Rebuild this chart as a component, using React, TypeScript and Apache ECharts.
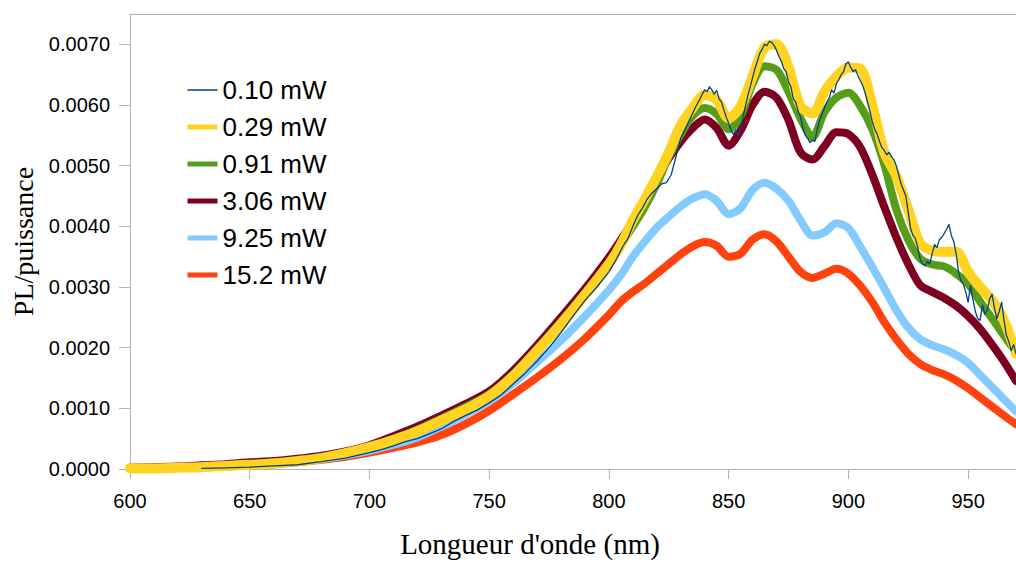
import React, { useEffect, useRef } from "react";
import * as echarts from "echarts";

// Wavelength grid (nm) shared by the smooth series
const wavelengths = [
  600, 610, 620, 630, 640, 650, 660, 670, 680, 690, 700, 710, 720, 730, 740, 750, 760, 770, 780, 790, 800,
  805, 810, 815, 820, 825, 830, 835, 840, 845, 850, 855, 860, 865, 870, 875, 880, 885, 890, 895, 900,
  905, 910, 915, 920, 925, 930, 935, 940, 945, 950, 955, 960, 965, 970,
];

// Values in units of 1e-3 (PL / power)
const UNIT = 0.001;

const p029 = [
  0.01, 0.01, 0.02, 0.03, 0.05, 0.07, 0.09, 0.13, 0.18, 0.26, 0.36, 0.48, 0.62, 0.80, 0.98, 1.20, 1.53, 1.95, 2.39, 2.87, 3.38,
  3.70, 4.10, 4.45, 4.82, 5.22, 5.67, 5.95, 6.17, 6.08, 5.78, 5.98, 6.47, 6.95, 7.00, 6.62, 5.98, 5.86, 6.22, 6.47, 6.62,
  6.60, 6.00, 5.22, 4.83, 4.28, 3.72, 3.60, 3.58, 3.58, 3.25, 3.00, 2.78, 2.45, 1.90,
];

const p091 = [
  0.02, 0.02, 0.03, 0.04, 0.06, 0.08, 0.11, 0.15, 0.20, 0.27, 0.37, 0.50, 0.65, 0.83, 1.02, 1.23, 1.56, 1.98, 2.43, 2.90, 3.40,
  3.70, 4.00, 4.32, 4.70, 5.15, 5.52, 5.82, 5.95, 5.85, 5.60, 5.82, 6.35, 6.64, 6.58, 6.22, 5.78, 5.47, 5.88, 6.12, 6.20,
  5.98, 5.60, 5.02, 4.28, 3.78, 3.47, 3.37, 3.34, 3.22, 3.05, 2.76, 2.48, 2.20, 1.92,
];

const p306 = [
  0.02, 0.03, 0.04, 0.06, 0.08, 0.11, 0.13, 0.17, 0.22, 0.29, 0.39, 0.54, 0.70, 0.88, 1.07, 1.28, 1.62, 2.04, 2.50, 2.97, 3.49,
  3.78, 4.08, 4.45, 4.80, 5.12, 5.40, 5.62, 5.76, 5.62, 5.33, 5.58, 6.00, 6.22, 6.12, 5.75, 5.22, 5.10, 5.32, 5.55, 5.52,
  5.30, 4.85, 4.32, 3.82, 3.38, 3.03, 2.92, 2.82, 2.69, 2.52, 2.31, 2.05, 1.77, 1.45,
];

const p925 = [
  0.01, 0.02, 0.03, 0.04, 0.05, 0.07, 0.09, 0.12, 0.16, 0.22, 0.30, 0.40, 0.52, 0.70, 0.90, 1.12, 1.41, 1.76, 2.12, 2.52, 2.95,
  3.20, 3.50, 3.75, 3.98, 4.16, 4.33, 4.46, 4.53, 4.42, 4.20, 4.30, 4.60, 4.72, 4.62, 4.42, 4.10, 3.85, 3.90, 4.05, 3.97,
  3.66, 3.33, 2.98, 2.62, 2.33, 2.14, 2.04, 1.97, 1.88, 1.75, 1.55, 1.35, 1.15, 0.95,
];

const p152 = [
  0.01, 0.01, 0.02, 0.03, 0.04, 0.06, 0.08, 0.11, 0.15, 0.20, 0.27, 0.35, 0.44, 0.56, 0.74, 0.96, 1.23, 1.51, 1.81, 2.15, 2.54,
  2.76, 2.92, 3.06, 3.22, 3.38, 3.54, 3.67, 3.74, 3.68, 3.50, 3.55, 3.78, 3.87, 3.75, 3.50, 3.25, 3.15, 3.22, 3.30, 3.22,
  3.02, 2.75, 2.42, 2.14, 1.90, 1.73, 1.63, 1.56, 1.46, 1.33, 1.18, 1.03, 0.88, 0.74,
];

// Noisy low-power spectrum: [wavelength nm, value in 1e-3]
const p010: [number, number][] = [
  [630, 0.01], [640, 0.02], [650, 0.03], [660, 0.05], [670, 0.07], [680, 0.12], [690, 0.18], [700, 0.27],
  [705, 0.32], [710, 0.38], [715, 0.45], [720, 0.50], [725, 0.58], [730, 0.66], [735, 0.78], [740, 0.88],
  [745, 0.97], [750, 1.09], [755, 1.22], [760, 1.40], [765, 1.58], [770, 1.78], [775, 2.00], [780, 2.25],
  [785, 2.52], [790, 2.78], [795, 3.00], [800, 3.25], [803, 3.45], [806, 3.68], [808, 3.80], [810, 4.00],
  [812, 4.18], [814, 4.30], [816, 4.45], [818, 4.55], [820, 4.62], [822, 4.70], [824, 4.72], [826, 4.85],
  [828, 5.15], [830, 5.45], [832, 5.62], [834, 5.78], [836, 5.95], [838, 6.10], [839, 6.18], [840, 6.25],
  [841, 6.22], [842, 6.30], [843, 6.25], [844, 6.18], [845, 6.24], [846, 6.10], [847, 6.05], [848, 5.92],
  [849, 5.80], [850, 5.70], [851, 5.58], [852, 5.52], [853, 5.58], [854, 5.50], [855, 5.62], [856, 5.80],
  [857, 5.98], [858, 6.15], [859, 6.30], [860, 6.45], [861, 6.60], [862, 6.72], [863, 6.85], [864, 6.92],
  [865, 7.00], [866, 6.98], [867, 7.05], [868, 7.03], [869, 6.98], [870, 6.90], [871, 6.80], [872, 6.72],
  [873, 6.60], [874, 6.55], [875, 6.38], [876, 6.30], [877, 6.10], [878, 6.05], [879, 5.90], [880, 5.80],
  [881, 5.62], [882, 5.50], [883, 5.45], [884, 5.38], [885, 5.42], [886, 5.40], [887, 5.60], [888, 5.75],
  [889, 5.85], [890, 5.95], [891, 6.05], [892, 6.12], [893, 6.25], [894, 6.20], [895, 6.35], [896, 6.42],
  [897, 6.50], [898, 6.55], [899, 6.68], [900, 6.71], [901, 6.62], [902, 6.55], [903, 6.58], [904, 6.48],
  [905, 6.40], [906, 6.32], [907, 6.20], [908, 6.05], [909, 5.90], [910, 5.72], [911, 5.60], [912, 5.52],
  [913, 5.40], [914, 5.30], [915, 5.25], [916, 5.18], [917, 5.22], [918, 5.15], [919, 5.10], [920, 5.00],
  [921, 4.85], [922, 4.70], [923, 4.60], [924, 4.50], [925, 4.23], [926, 3.96], [927, 3.85], [928, 3.80],
  [929, 3.65], [930, 3.45], [931, 3.38], [932, 3.35], [933, 3.42], [934, 3.38], [935, 3.55], [936, 3.70],
  [937, 3.65], [938, 3.78], [939, 3.82], [940, 3.88], [941, 3.95], [942, 4.03], [943, 3.85], [944, 3.75],
  [945, 3.55], [946, 3.25], [947, 3.10], [948, 3.05], [949, 2.92], [950, 2.75], [951, 3.02], [952, 2.80],
  [953, 2.60], [954, 2.48], [955, 2.45], [956, 2.70], [957, 2.55], [958, 2.62], [959, 2.80], [960, 2.88],
  [961, 2.65], [962, 2.48], [963, 2.60], [964, 2.75], [965, 2.45], [966, 2.20], [967, 2.10], [968, 1.95],
  [969, 2.05], [970, 1.90],
];

const xTicks = [600, 650, 700, 750, 800, 850, 900, 950];
const yTicks = [0, 0.001, 0.002, 0.003, 0.004, 0.005, 0.006, 0.007];

const legendOrder = ["0.10 mW", "0.29 mW", "0.91 mW", "3.06 mW", "9.25 mW", "15.2 mW"];
const legendIconWidths = [1.5, 5, 5, 5, 5, 5];

const AXIS_GRAY = "#b3b3b3";
const SANS = "Liberation Sans";
const SERIF = "Liberation Serif";

export default function App() {
  const ref = useRef<HTMLDivElement>(null);

  useEffect(() => {
    if (!ref.current) return;
    const chart = echarts.init(ref.current, undefined, { renderer: "svg" });

    const toPairs = (vals: number[]) => wavelengths.map((w, i) => [w, vals[i] * UNIT]);

    const mk = (name: string, data: any[], color: string, width: number) => ({
      name,
      type: "line",
      data,
      showSymbol: false,
      symbol: "none",
      smooth: 0.3,
      color,
      lineStyle: { color, width, cap: "round", join: "round" },
      itemStyle: { color },
      emphasis: { disabled: true },
      silent: true,
    });

    const option: any = {
      animation: false,
      grid: { left: 130, right: 0, top: 14, bottom: 91, containLabel: false },
      legend: {
        orient: "vertical",
        left: 185,
        top: 75,
        padding: 0,
        itemWidth: 30,
        itemHeight: 14,
        itemGap: 7,
        selectedMode: false,
        itemStyle: { opacity: 0, borderWidth: 0 },
        textStyle: { fontSize: 26, fontFamily: SANS, color: "#000", lineHeight: 30 },
        data: legendOrder.map((name, i) => ({
          name,
          itemStyle: { opacity: 0, borderWidth: 0 },
          lineStyle: { width: legendIconWidths[i], cap: "butt" },
        })),
      },
      xAxis: [
        {
          type: "value",
          min: 600,
          max: 970,
          interval: 50,
          name: "Longueur d'onde (nm)",
          nameLocation: "middle",
          nameGap: 60,
          nameTextStyle: { fontFamily: SERIF, fontSize: 29, color: "#000", padding: [0, 86, 0, 0] },
          axisLine: { show: true, lineStyle: { color: AXIS_GRAY, width: 1 } },
          axisTick: { show: true, length: 10, lineStyle: { color: AXIS_GRAY }, customValues: xTicks },
          axisLabel: {
            fontFamily: SANS,
            fontSize: 20,
            color: "#000",
            margin: 22,
            customValues: xTicks,
            formatter: (v: number) => (xTicks.indexOf(v) >= 0 ? String(v) : ""),
          },
          splitLine: { show: false },
        },
        {
          type: "value",
          position: "top",
          min: 600,
          max: 970,
          axisLine: { show: true, onZero: false, lineStyle: { color: AXIS_GRAY, width: 1 } },
          axisTick: { show: false },
          axisLabel: { show: false },
          splitLine: { show: false },
        },
      ],
      yAxis: {
        type: "value",
        min: 0,
        max: 0.0075,
        interval: 0.001,
        name: "PL/puissance",
        nameLocation: "middle",
        nameGap: 90,
        nameTextStyle: { fontFamily: SERIF, fontSize: 28, color: "#000" },
        axisLine: { show: true, lineStyle: { color: AXIS_GRAY, width: 1 } },
        axisTick: { show: true, length: 11, lineStyle: { color: AXIS_GRAY }, customValues: yTicks },
        axisLabel: {
          fontFamily: SANS,
          fontSize: 20,
          color: "#000",
          margin: 20,
          customValues: yTicks,
          formatter: (v: number) => (v > 0.00705 ? "" : v.toFixed(4)),
        },
        splitLine: { show: false },
      },
      series: [
        mk("15.2 mW", toPairs(p152), "#ff420e", 8),
        mk("9.25 mW", toPairs(p925), "#83caff", 8),
        mk("3.06 mW", toPairs(p306), "#7e0021", 8),
        mk("0.91 mW", toPairs(p091), "#579d1c", 8),
        mk("0.29 mW", toPairs(p029), "#ffd320", 10),
        {
          ...mk("0.10 mW", p010.map(([w, v]) => [w, v * UNIT]), "#004586", 1.3),
          smooth: false,
        },
      ],
    };

    chart.setOption(option);
    return () => chart.dispose();
  }, []);

  return (
    <div
      ref={ref}
      style={{ position: "fixed", left: 0, top: 0, width: 1016, height: 563, background: "#fff" }}
    />
  );
}
